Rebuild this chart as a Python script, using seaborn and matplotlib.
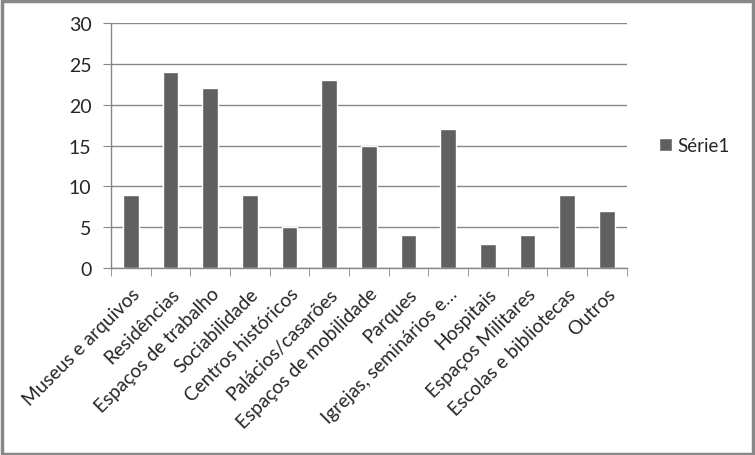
import pandas as pd
import seaborn as sns
import matplotlib.pyplot as plt
from matplotlib.patches import Rectangle
import numpy as np

categories = [
    "Museus e arquivos", "Residências", "Espaços de trabalho", "Sociabilidade",
    "Centros históricos", "Palácios/casarões", "Espaços de mobilidade", "Parques",
    "Igrejas, seminários e…", "Hospitais", "Espaços Militares",
    "Escolas e bibliotecas", "Outros",
]
values = [9, 24, 22, 9, 5, 23, 15, 4, 17, 3, 4, 9, 7]
series_name = "Série1"

df = pd.DataFrame({"categoria": categories, "valor": values})

sns.set_style("white")
plt.rcParams["font.family"] = ["Lato", "DejaVu Sans"]

grey = "#878787"
bar_color = "#606060"

fig = plt.figure(figsize=(7.55, 4.56), dpi=100)
ax = fig.add_axes([0.147, 0.410, 0.683, 0.537])

sns.barplot(data=df, x="categoria", y="valor", color=bar_color, width=0.4,
            saturation=1, label=series_name, ax=ax)

ax.set_ylim(0, 30)
ax.set_yticks(range(0, 31, 5))
ax.set_xlim(-0.5, len(categories) - 0.5)
ax.yaxis.grid(True, color=grey, linewidth=1)
ax.set_axisbelow(True)
for side in ["top", "right"]:
    ax.spines[side].set_visible(False)
for side in ["left", "bottom"]:
    ax.spines[side].set_color(grey)
    ax.spines[side].set_linewidth(1)

ax.set_xlabel("")
ax.set_ylabel("")
ax.tick_params(axis="y", length=6, color=grey, labelsize=14, pad=8, left=True)
ax.tick_params(axis="x", which="major", length=0, labelsize=13.8, pad=12)
ax.set_xticks(np.arange(-0.5, len(categories)), minor=True)
ax.tick_params(axis="x", which="minor", length=6, color=grey, bottom=True)
plt.setp(ax.get_xticklabels(), rotation=45, ha="right", rotation_mode="anchor")
for lbl in ax.get_xticklabels():
    lbl.set_x(lbl.get_position()[0])

ax.legend(loc="center left", bbox_to_anchor=(1.03, 0.5), frameon=False,
          fontsize=13.5, handlelength=0.7, handleheight=0.7, handletextpad=0.3)

fig.patches.append(Rectangle((0.002, 0.003), 0.995, 0.993, transform=fig.transFigure,
                             fill=False, edgecolor=grey, linewidth=2.5))

fig.savefig("out.png", dpi=100)
